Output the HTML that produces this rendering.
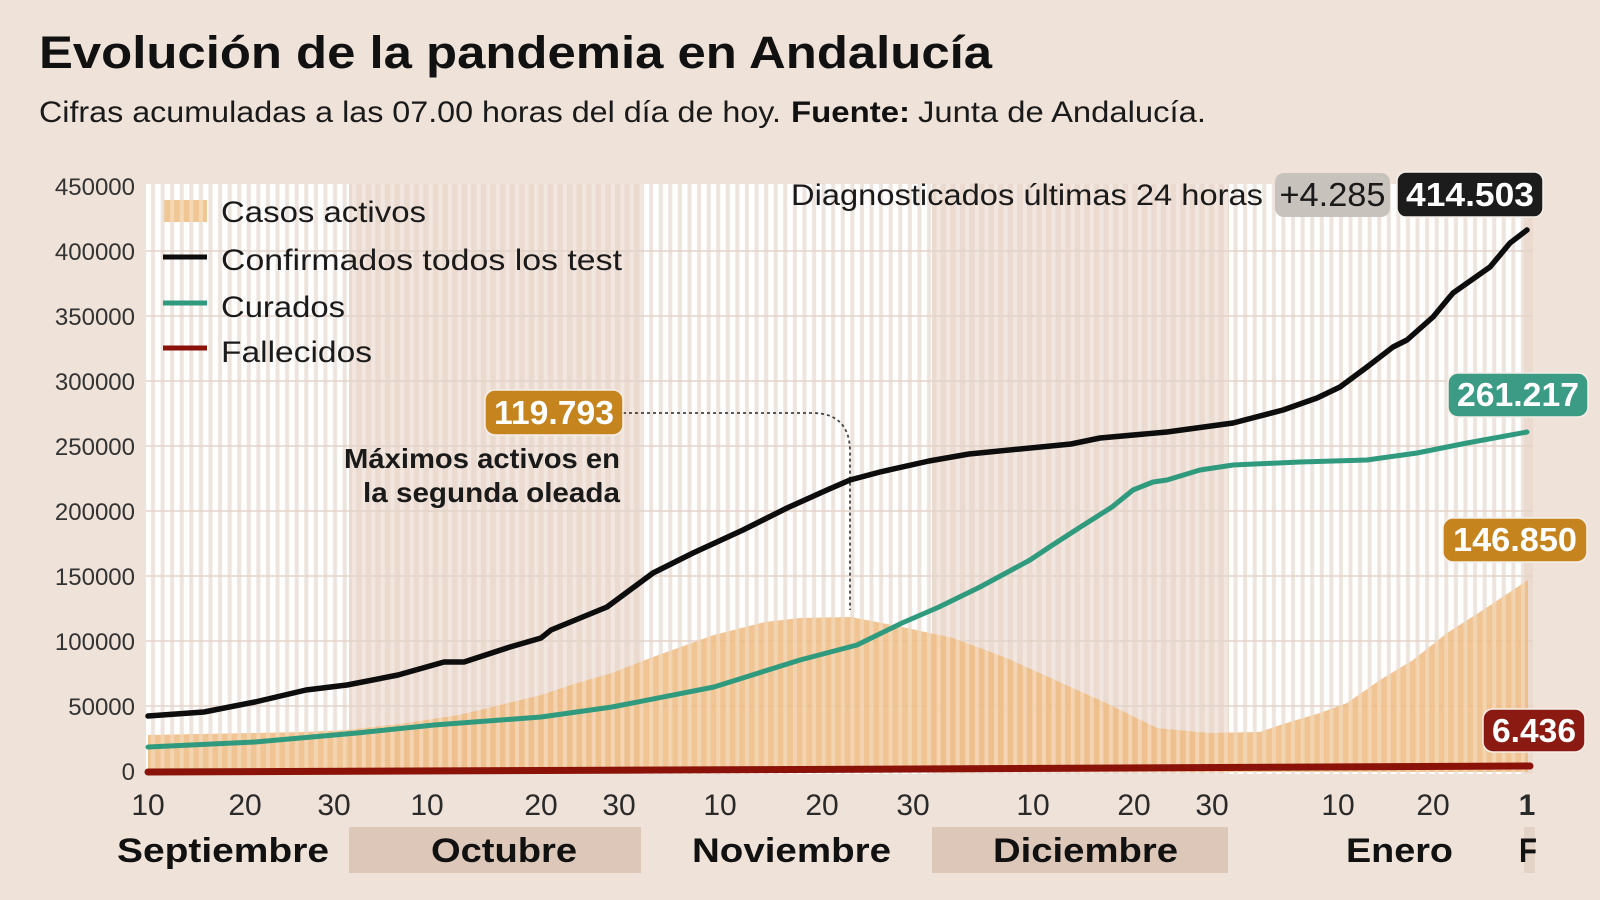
<!DOCTYPE html>
<html><head><meta charset="utf-8"><style>
html,body{margin:0;padding:0;background:#EEE2D9;}
svg{display:block;}
text{font-family:"Liberation Sans",Arial,sans-serif;}
</style></head><body>
<svg width="1600" height="900" viewBox="0 0 1600 900" xmlns="http://www.w3.org/2000/svg">
<defs>
<pattern id="sw" patternUnits="userSpaceOnUse" x="146" y="0" width="9.58" height="20"><rect x="5" y="0" width="4" height="20" fill="#EDE4DD"/></pattern>
<pattern id="sb" patternUnits="userSpaceOnUse" x="146" y="0" width="9.58" height="20"><rect x="5" y="0" width="4" height="20" fill="#F2E7E0"/></pattern>
<pattern id="sa" patternUnits="userSpaceOnUse" x="146" y="0" width="9.58" height="20"><rect x="5" y="0" width="4" height="20" fill="#FFFFFF" fill-opacity="0.3"/></pattern>
</defs>
<rect width="1600" height="900" fill="#EEE2D9"/>

<!-- Title -->
<text x="39" y="68" font-size="45" font-weight="700" fill="#111" textLength="953" lengthAdjust="spacingAndGlyphs">Evolución de la pandemia en Andalucía</text>
<text x="39" y="122" font-size="30" fill="#1a1a1a" textLength="742" lengthAdjust="spacingAndGlyphs">Cifras acumuladas a las 07.00 horas del día de hoy.</text>
<text x="791" y="122" font-size="30" font-weight="700" fill="#111" textLength="119" lengthAdjust="spacingAndGlyphs">Fuente:</text>
<text x="918" y="122" font-size="30" fill="#1a1a1a" textLength="288" lengthAdjust="spacingAndGlyphs">Junta de Andalucía.</text>

<!-- Plot bands -->
<rect x="146" y="184" width="203" height="590" fill="#FFFFFF"/>
<rect x="349" y="184" width="295" height="590" fill="#EBDACF"/>
<rect x="644" y="184" width="288" height="590" fill="#FFFFFF"/>
<rect x="932" y="184" width="297" height="590" fill="#EBDACF"/>
<rect x="1229" y="184" width="295" height="590" fill="#FFFFFF"/>
<rect x="1524" y="184" width="9" height="590" fill="#EBDACF"/>
<rect x="146" y="184" width="203" height="590" fill="url(#sw)"/>
<rect x="349" y="184" width="295" height="590" fill="url(#sb)"/>
<rect x="644" y="184" width="288" height="590" fill="url(#sw)"/>
<rect x="932" y="184" width="297" height="590" fill="url(#sb)"/>
<rect x="1229" y="184" width="295" height="590" fill="url(#sw)"/>

<!-- horizontal gridlines -->
<g stroke="#E3D4C9" stroke-width="1.5">
<line x1="146" x2="1533" y1="251" y2="251"/>
<line x1="146" x2="1533" y1="316" y2="316"/>
<line x1="146" x2="1533" y1="381" y2="381"/>
<line x1="146" x2="1533" y1="446" y2="446"/>
<line x1="146" x2="1533" y1="511" y2="511"/>
<line x1="146" x2="1533" y1="576" y2="576"/>
<line x1="146" x2="1533" y1="641" y2="641"/>
<line x1="146" x2="1533" y1="706" y2="706"/>
</g>

<!-- Casos activos area -->
<polygon fill="#EEBC84" fill-opacity="0.88" points="148,735 200,734 255,733 306,732 347,730 400,724 459,715 500,705 541,695 577,683 612,673 653,657 700,640 714,635 765,622 800,618 851,617 902,627 953,638 1004,657 1055,680 1106,703 1157,728 1208,733 1260,732 1280,725 1320,713 1347,703 1380,680 1413,660 1447,633 1480,612 1528,580 1528,772 148,772"/>
<polygon fill="url(#sa)" points="148,735 200,734 255,733 306,732 347,730 400,724 459,715 500,705 541,695 577,683 612,673 653,657 700,640 714,635 765,622 800,618 851,617 902,627 953,638 1004,657 1055,680 1106,703 1157,728 1208,733 1260,732 1280,725 1320,713 1347,703 1380,680 1413,660 1447,633 1480,612 1528,580 1528,772 148,772"/>

<!-- connector -->
<path d="M623,413 H812 Q850,413 850,452 V610" fill="none" stroke="#444" stroke-width="1.8" stroke-dasharray="3,3"/>

<!-- Curados -->
<polyline fill="none" stroke="#2F9A7D" stroke-width="5" stroke-linejoin="round" stroke-linecap="round" points="148,747 255,742 357,733 434,725 541,717 612,707 714,687 800,660 857,645 902,623 939,607 980,587 1030,560 1051,546 1082,526 1112,507 1133,490 1153,482 1167,480 1200,470 1233,465 1300,462 1367,460 1417,453 1467,443 1527,432"/>

<!-- Confirmados -->
<polyline fill="none" stroke="#0d0d0d" stroke-width="5.5" stroke-linejoin="round" stroke-linecap="round" points="148,716 204,712 255,702 306,690 347,685 398,675 444,662 464,662 510,647 541,638 551,630 607,607 653,573 693,553 743,530 787,508 827,490 850,480 880,472 929,461 969,454 1020,449 1071,444 1100,438 1167,432 1233,423 1283,410 1317,398 1340,387 1367,367 1393,347 1407,340 1433,317 1453,293 1490,267 1510,243 1527,230"/>

<!-- Fallecidos -->
<polyline fill="none" stroke="#8A1208" stroke-width="7" stroke-linecap="round" points="148,772 800,769.5 1530,766"/>

<!-- Y axis labels -->
<g font-size="24" fill="#333" text-anchor="end">
<text x="135" y="195">450000</text>
<text x="135" y="260">400000</text>
<text x="135" y="325">350000</text>
<text x="135" y="390">300000</text>
<text x="135" y="455">250000</text>
<text x="135" y="520">200000</text>
<text x="135" y="585">150000</text>
<text x="135" y="650">100000</text>
<text x="135" y="715">50000</text>
<text x="135" y="780">0</text>
</g>

<!-- Legend -->
<rect x="163" y="200" width="44" height="22" fill="#F0C794"/>
<rect x="163" y="200" width="44" height="22" fill="url(#sa)"/>
<line x1="163" x2="207" y1="257" y2="257" stroke="#0d0d0d" stroke-width="5"/>
<line x1="163" x2="207" y1="303" y2="303" stroke="#2F9A7D" stroke-width="5"/>
<line x1="163" x2="207" y1="348" y2="348" stroke="#8A1208" stroke-width="5"/>
<g font-size="30" fill="#1a1a1a">
<text x="221" y="222" textLength="205" lengthAdjust="spacingAndGlyphs">Casos activos</text>
<text x="221" y="270" textLength="401" lengthAdjust="spacingAndGlyphs">Confirmados todos los test</text>
<text x="221" y="317" textLength="124" lengthAdjust="spacingAndGlyphs">Curados</text>
<text x="221" y="362" textLength="151" lengthAdjust="spacingAndGlyphs">Fallecidos</text>
</g>

<!-- Diagnosticados -->
<text x="791" y="205" font-size="30" fill="#1a1a1a" textLength="472" lengthAdjust="spacingAndGlyphs">Diagnosticados últimas 24 horas</text>
<rect x="1275" y="173" width="115" height="44" rx="9" fill="#C8C2BD"/>
<text x="1332.5" y="206" font-size="33" fill="#1a1a1a" text-anchor="middle" textLength="106" lengthAdjust="spacingAndGlyphs">+4.285</text>
<rect x="1397" y="172" width="146" height="45" rx="9" fill="#1C1C1C" stroke="#F5EEE8" stroke-width="1.5"/>
<text x="1470" y="206" font-size="33" font-weight="700" fill="#fff" text-anchor="middle" textLength="128" lengthAdjust="spacingAndGlyphs">414.503</text>

<!-- value boxes -->
<rect x="1448" y="373" width="140" height="44" rx="10" fill="#3B9B85" stroke="#F5EEE8" stroke-width="1.5"/>
<text x="1518" y="406" font-size="33" font-weight="700" fill="#fff" text-anchor="middle" textLength="122" lengthAdjust="spacingAndGlyphs">261.217</text>
<rect x="1443" y="518" width="144" height="44" rx="10" fill="#C6841E" stroke="#F5EEE8" stroke-width="1.5"/>
<text x="1515" y="551" font-size="33" font-weight="700" fill="#fff" text-anchor="middle" textLength="124" lengthAdjust="spacingAndGlyphs">146.850</text>
<rect x="1483" y="709" width="102" height="43" rx="10" fill="#8A1A12" stroke="#F5EEE8" stroke-width="1.5"/>
<text x="1534" y="742" font-size="33" font-weight="700" fill="#fff" text-anchor="middle" textLength="84" lengthAdjust="spacingAndGlyphs">6.436</text>
<rect x="485" y="390" width="138" height="45" rx="10" fill="#C6841E" stroke="#F5EEE8" stroke-width="1.5"/>
<text x="554" y="424" font-size="33" font-weight="700" fill="#fff" text-anchor="middle" textLength="120" lengthAdjust="spacingAndGlyphs">119.793</text>

<!-- annotation -->
<g font-size="28" font-weight="700" fill="#1a1a1a" text-anchor="end">
<text x="620" y="468" textLength="276" lengthAdjust="spacingAndGlyphs">Máximos activos en</text>
<text x="620" y="502" textLength="257" lengthAdjust="spacingAndGlyphs">la segunda oleada</text>
</g>

<!-- X tick labels -->
<g font-size="30" fill="#2a2a2a" text-anchor="middle">
<text x="148" y="815">10</text>
<text x="245" y="815">20</text>
<text x="334" y="815">30</text>
<text x="427" y="815">10</text>
<text x="541" y="815">20</text>
<text x="619" y="815">30</text>
<text x="720" y="815">10</text>
<text x="822" y="815">20</text>
<text x="913" y="815">30</text>
<text x="1033" y="815">10</text>
<text x="1134" y="815">20</text>
<text x="1212" y="815">30</text>
<text x="1338" y="815">10</text>
<text x="1433" y="815">20</text>
<text x="1527" y="815" font-weight="700">1</text>
</g>

<!-- Month labels -->
<rect x="349" y="827" width="292" height="46" fill="#DCC7B9"/>
<rect x="932" y="827" width="296" height="46" fill="#DCC7B9"/>
<rect x="1524" y="827" width="11" height="46" fill="#E3D2C6"/>
<g font-size="34" font-weight="700" fill="#111">
<text x="117" y="862" textLength="212" lengthAdjust="spacingAndGlyphs">Septiembre</text>
<text x="431" y="862" textLength="146" lengthAdjust="spacingAndGlyphs">Octubre</text>
<text x="692" y="862" textLength="199" lengthAdjust="spacingAndGlyphs">Noviembre</text>
<text x="993" y="862" textLength="185" lengthAdjust="spacingAndGlyphs">Diciembre</text>
<text x="1346" y="862" textLength="107" lengthAdjust="spacingAndGlyphs">Enero</text>
<text x="1519" y="862" textLength="18" lengthAdjust="spacingAndGlyphs">F</text>
</g>
</svg>
</body></html>
